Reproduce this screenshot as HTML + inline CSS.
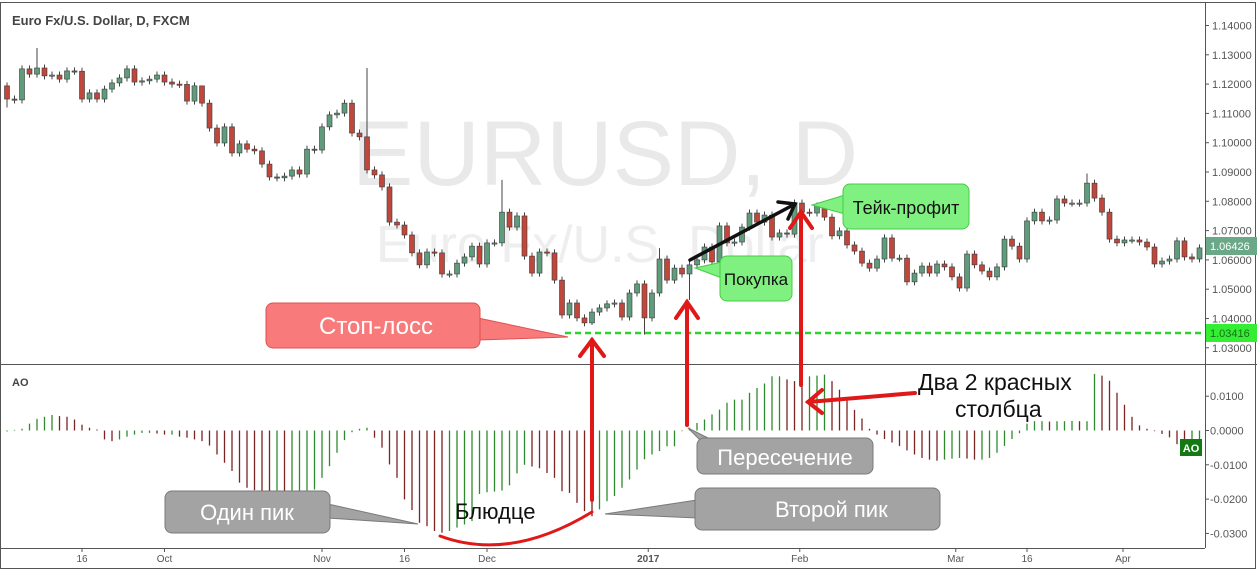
<!DOCTYPE html>
<html><head><meta charset="utf-8">
<style>
html,body{margin:0;padding:0;background:#fff;}
body{width:1257px;height:570px;overflow:hidden;position:relative;font-family:"Liberation Sans",sans-serif;}
svg{position:absolute;left:0;top:0;}
.cl{font-family:"Liberation Sans","DejaVu Sans",sans-serif;}
</style></head>
<body>
<svg id="chart" width="1257" height="570" viewBox="0 0 1257 570">
  <rect x="0.5" y="2.5" width="1255" height="566" fill="#fff" stroke="#555"/>
  <text x="605" y="185" font-size="92" fill="#e9e9e9" text-anchor="middle" class="cl">EURUSD, D</text>
  <text x="600" y="262" font-size="52" fill="#eeeeee" text-anchor="middle" class="cl">Euro Fx/U.S. Dollar</text>
  <g id="candles"></g>
  <g id="aoBars"></g>
  <line x1="0" y1="364.5" x2="1257" y2="364.5" stroke="#555"/>
  <line x1="1205.5" y1="2" x2="1205.5" y2="548" stroke="#555"/>
  <line x1="0" y1="548.5" x2="1205" y2="548.5" stroke="#555"/>
  <g id="axes"></g>
  <text x="12" y="25" font-size="13" font-weight="bold" fill="#444" class="cl">Euro Fx/U.S. Dollar, D, FXCM</text>
  <text x="12" y="386" font-size="11" font-weight="bold" fill="#444" class="cl">AO</text>

  <line x1="565" y1="333" x2="1205" y2="333" stroke="#2ad42a" stroke-width="2.5" stroke-dasharray="6,4"/>
  <rect x="1206" y="324" width="51" height="18" fill="#33ee33"/>
  <text x="1210" y="337" font-size="11" fill="#1a6e1a" class="cl">1.03416</text>
  <rect x="1206" y="237" width="51" height="18" fill="#6aa888"/>
  <text x="1210" y="250" font-size="11" fill="#fff" class="cl">1.06426</text>
  <rect x="1180" y="439" width="22" height="17" fill="#137a13"/>
  <text x="1191" y="452" font-size="11" font-weight="bold" fill="#fff" text-anchor="middle" class="cl">AO</text>

  <g stroke="#e01818" stroke-width="4" fill="none" stroke-linecap="round">
    <line x1="592" y1="500" x2="592" y2="340"/><polyline points="580,356 592,340 604,356"/>
    <line x1="687" y1="425" x2="687" y2="302"/><polyline points="676,318 687,302 698,318"/>
    <line x1="801" y1="385" x2="801" y2="212"/><polyline points="790,228 801,212 812,228"/>
    <line x1="915" y1="393" x2="808" y2="402"/><polyline points="822,390 808,402 822,413"/>
    <path d="M440,536 Q510,562 592,512" stroke-width="3"/>
  </g>
  <g stroke="#111" stroke-width="3.5" fill="none" stroke-linecap="round">
    <line x1="690" y1="260" x2="795" y2="204"/><polyline points="778,202 795,204 788,219"/>
  </g>

  <g>
    <path d="M478,318 L568,337 L478,340 Z" fill="#f87a7a" stroke="#e05050"/>
    <rect x="266" y="303" width="214" height="45" rx="7" fill="#f87a7a" stroke="#e05050"/>
    <text x="376" y="334" font-size="24" fill="#fff" text-anchor="middle" class="cl">Стоп-лосс</text>
  </g>
  <g>
    <path d="M845,195 L812,205 L845,214 Z" fill="#80f080" stroke="#44cc44"/>
    <rect x="843" y="184" width="126" height="45" rx="7" fill="#80f080" stroke="#44cc44"/>
    <text x="906" y="214" font-size="18" fill="#111" text-anchor="middle" class="cl">Тейк-профит</text>
  </g>
  <g>
    <path d="M722,262 L695,268 L722,278 Z" fill="#80f080" stroke="#44cc44"/>
    <rect x="720" y="256" width="72" height="45" rx="7" fill="#80f080" stroke="#44cc44"/>
    <text x="756" y="285" font-size="17" fill="#111" text-anchor="middle" class="cl">Покупка</text>
  </g>
  <g>
    <path d="M328,504 L418,524 L328,518 Z" fill="#a3a3a3" stroke="#7a7a7a"/>
    <rect x="165" y="491" width="165" height="42" rx="7" fill="#a3a3a3" stroke="#7a7a7a"/>
    <text x="247" y="520" font-size="22" fill="#fff" text-anchor="middle" class="cl">Один пик</text>
  </g>
  <g>
    <path d="M697,500 L605,514 L697,518 Z" fill="#a3a3a3" stroke="#7a7a7a"/>
    <rect x="695" y="488" width="245" height="42" rx="7" fill="#a3a3a3" stroke="#7a7a7a"/>
    <text x="775" y="517" font-size="22" fill="#fff" class="cl">Второй пик</text>
  </g>
  <g>
    <path d="M700,440 L688,428 L712,440 Z" fill="#a3a3a3" stroke="#7a7a7a"/>
    <rect x="697" y="438" width="176" height="36" rx="7" fill="#a3a3a3" stroke="#7a7a7a"/>
    <text x="785" y="465" font-size="22" fill="#fff" text-anchor="middle" class="cl">Пересечение</text>
  </g>
  <text x="455" y="519" font-size="22" fill="#111" class="cl">Блюдце</text>
  <text x="918" y="390" font-size="23" fill="#111" class="cl">Два 2 красных</text>
  <text x="955" y="417" font-size="23" fill="#111" class="cl">столбца</text>
</svg>
<script>
const closes=[1.1149,1.1146,1.1252,1.1234,1.1255,1.1228,1.1231,1.1217,1.1245,1.1244,
1.1149,1.1170,1.1149,1.1183,1.1204,1.1221,1.1252,1.1207,1.1211,1.1217,
1.1231,1.1207,1.1200,1.1199,1.1142,1.1194,1.1135,1.1050,1.0999,1.1054,
1.0965,1.0996,1.0978,1.0972,1.0927,1.0883,1.0880,1.0886,1.0907,1.0893,
1.0978,1.0975,1.1054,1.1095,1.1101,1.1135,1.1033,1.1020,1.0907,1.0890,
1.0849,1.0729,1.0719,1.0685,1.0624,1.0583,1.0627,1.0624,1.0552,1.0552,
1.0589,1.0610,1.0647,1.0586,1.0658,1.0658,1.0763,1.0712,1.0750,1.0613,
1.0555,1.0627,1.0624,1.0531,1.0412,1.0453,1.0402,1.0385,1.0422,1.0436,
1.0450,1.0453,1.0405,1.0487,1.0518,1.0402,1.0487,1.0603,1.0531,1.0572,
1.0552,1.0583,1.0600,1.0644,1.0593,1.0716,1.0658,1.0661,1.0712,1.0760,
1.0729,1.0753,1.0678,1.0692,1.0688,1.0794,1.0763,1.0760,1.0784,1.0746,
1.0682,1.0699,1.0651,1.0630,1.0589,1.0572,1.0603,1.0675,1.0606,1.0606,
1.0525,1.0555,1.0579,1.0555,1.0586,1.0576,1.0542,1.0504,1.0620,1.0583,
1.0562,1.0542,1.0576,1.0671,1.0647,1.0603,1.0733,1.0763,1.0733,1.0736,
1.0808,1.0794,1.0794,1.0794,1.0862,1.0811,1.0763,1.0671,1.0658,1.0668,
1.0668,1.0661,1.0644,1.0586,1.0596,1.0603,1.0665,1.0610,1.0603,1.0641];
const firstOpen=1.1194;
const highOverrides={4:1.1323,48:1.1255,66:1.0873,144:1.0895,26:1.1165,87:1.0640};
const lowOverrides={85:1.0345,91:1.0463,78:1.0378,0:1.1120};
const aoValues=[0.0000,0.0002,0.0005,0.0020,0.0034,0.0040,0.0045,0.0042,0.0040,0.0032,
0.0017,0.0008,0.0003,-0.0026,-0.0031,-0.0026,-0.0018,-0.0012,-0.0007,-0.0007,
-0.0009,-0.0012,-0.0012,-0.0018,-0.0021,-0.0026,-0.0031,-0.0044,-0.0070,-0.0094,
-0.0118,-0.0152,-0.0167,-0.0174,-0.0182,-0.0186,-0.0186,-0.0187,-0.0186,-0.0185,
-0.0182,-0.0172,-0.0138,-0.0104,-0.0065,-0.0028,-0.0005,0.0005,0.0008,-0.0021,
-0.0050,-0.0099,-0.0138,-0.0201,-0.0232,-0.0269,-0.0279,-0.0293,-0.0298,-0.0293,
-0.0283,-0.0274,-0.0264,-0.0185,-0.0180,-0.0178,-0.0175,-0.0160,-0.0125,-0.0100,
-0.0105,-0.0110,-0.0124,-0.0138,-0.0177,-0.0182,-0.0211,-0.0235,-0.0250,-0.0230,
-0.0206,-0.0191,-0.0167,-0.0143,-0.0114,-0.0084,-0.0070,-0.0060,-0.0046,-0.0046,
-0.0002,0.0008,0.0022,0.0032,0.0047,0.0061,0.0081,0.0090,0.0090,0.0110,
0.0124,0.0137,0.0158,0.0158,0.0149,0.0144,0.0134,0.0158,0.0160,0.0163,
0.0144,0.0119,0.0090,0.0060,0.0035,0.0005,-0.0012,-0.0025,-0.0035,-0.0045,
-0.0058,-0.0070,-0.0080,-0.0085,-0.0088,-0.0085,-0.0082,-0.0080,-0.0082,-0.0085,
-0.0085,-0.0080,-0.0065,-0.0045,-0.0025,-0.0008,0.0020,0.0027,0.0027,0.0026,
0.0027,0.0027,0.0028,0.0027,0.0027,0.0165,0.0160,0.0145,0.0110,0.0075,
0.0040,0.0015,0.0005,-0.0002,-0.0010,-0.0020,-0.0040,-0.0050,-0.0040,-0.0040];
const priceTicks=[1.14,1.13,1.12,1.11,1.10,1.09,1.08,1.07,1.06,1.05,1.04,1.03];
const aoTicks=[0.01,0,-0.01,-0.02,-0.03];
const aoTickLabels=["0.0100","0.0000","-0.0100","-0.0200","-0.0300"];
const dateLabels=["16","Oct","Nov","16","Dec","2017","Feb","Mar","16","Apr"];
const dateIndex=[10,21,42,53,64,85.5,105.7,126.5,136,148.8];

const NS="http://www.w3.org/2000/svg";
function xOf(i){return 7+i*7.5;}
function yP(p){return 25.5+(1.14-p)*2930;}
function yA(v){return 430.5-v*3430;}
function mk(tag,attrs,parent){const e=document.createElementNS(NS,tag);for(const k in attrs)e.setAttribute(k,attrs[k]);parent.appendChild(e);return e;}

const axes=document.getElementById('axes');
priceTicks.forEach((p)=>{
  const t=mk('text',{x:1212,y:yP(p)+4,'font-size':11,fill:'#555',class:'cl'},axes);
  t.textContent=p.toFixed(5);
  
  
  const l=mk('line',{x1:1205,x2:1209,y1:yP(p),y2:yP(p),stroke:'#555'},axes);
  
  
});
aoTicks.forEach((v,i)=>{
  const t=mk('text',{x:1210,y:yA(v)+4,'font-size':11,fill:'#555',class:'cl'},axes);
  t.textContent=aoTickLabels[i];
  
  
  const l=mk('line',{x1:1205,x2:1209,y1:yA(v),y2:yA(v),stroke:'#555'},axes);
  
  
});
dateLabels.forEach((d,i)=>{
  const x=xOf(dateIndex[i]);
  const t=mk('text',{x:x,y:562,'font-size':10,fill:'#555','text-anchor':'middle',class:'cl','font-weight':d==='2017'?'bold':'normal'},axes);
  t.textContent=d;
  
  
  const l=mk('line',{x1:x,x2:x,y1:548,y2:552,stroke:'#555'},axes);
  
  
});

const cg=document.getElementById('candles');
closes.forEach((c,i)=>{
  const o=i===0?firstOpen:closes[i-1];
  const hi=highOverrides[i]!==undefined?highOverrides[i]:Math.max(o,c)+0.0012;
  const lo=lowOverrides[i]!==undefined?lowOverrides[i]:Math.min(o,c)-0.0012;
  const x=xOf(i);
  const up=c>=o;
  const g=mk('g',{},cg);
  
  
  mk('line',{x1:x,x2:x,y1:yP(hi),y2:yP(lo),stroke:'#444','stroke-width':1},g);
  const top=yP(Math.max(o,c)),bot=yP(Math.min(o,c));
  mk('rect',{x:x-2.5,y:top,width:5,height:Math.max(1.2,bot-top),fill:up?'#5f9c7c':'#c0473b',stroke:'#3a3a3a','stroke-width':0.6},g);
});

const ag=document.getElementById('aoBars');
aoValues.forEach((v,i)=>{
  const x=xOf(i);
  const rising=i===0||v>=aoValues[i-1];
  const l=mk('line',{x1:x,x2:x,y1:yA(0),y2:yA(v)+(v===0?1:0),stroke:rising?'#2f8a2f':'#7a2424','stroke-width':1.3},ag);
  
  
});
</script>
</body></html>
